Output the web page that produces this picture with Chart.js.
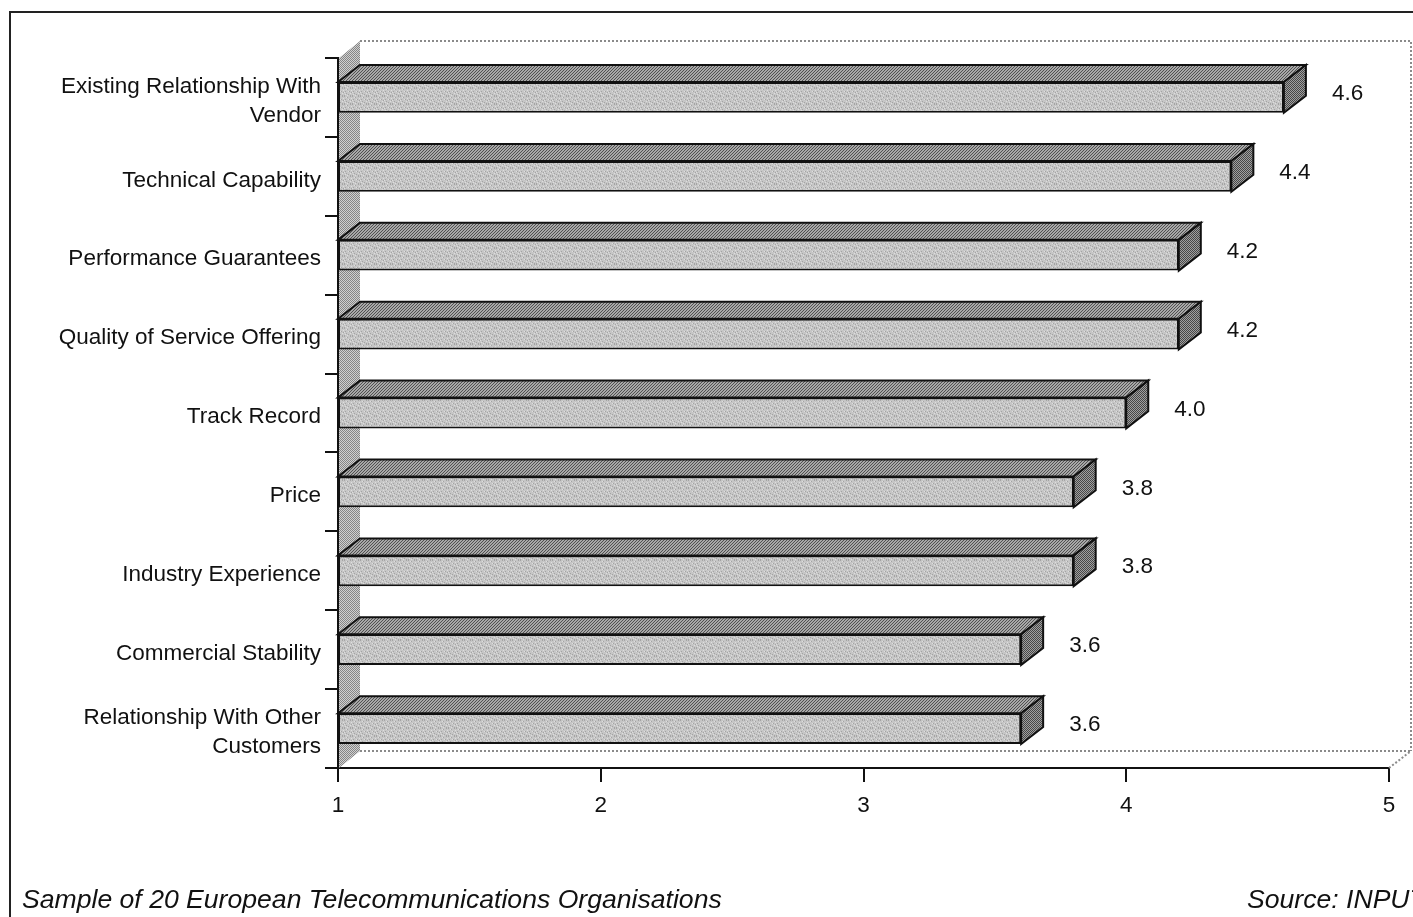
<!DOCTYPE html>
<html>
<head>
<meta charset="utf-8">
<script src="https://cdn.jsdelivr.net/npm/chart.js@4.4.1/dist/chart.umd.min.js"></script>
<style>
  html, body { margin: 0; padding: 0; background: #fff; }
  #wrap { position: relative; width: 1413px; height: 917px; overflow: hidden; background: #fff; }
  #frame { position: absolute; left: 9px; top: 11px; width: 1600px; height: 1100px;
           border-left: 2px solid #222; border-top: 2px solid #222; box-sizing: border-box; pointer-events: none; }
  canvas { position: absolute; left: 0; top: 0; }
  .foot { position: absolute; top: 886px; font-family: "Liberation Sans", Arial, sans-serif;
          font-style: italic; font-size: 26.6px; line-height: 26px; color: #111; white-space: nowrap; }
</style>
</head>
<body>
<div id="wrap">
  <canvas id="c" width="1413" height="917"></canvas>
  <div id="frame"></div>
  <div class="foot" style="left:22px">Sample of 20 European Telecommunications Organisations</div>
  <div class="foot" style="left:1247px">Source: INPUT</div>
</div>
<script>
// ---- data ----
const categories = [
  ['Existing Relationship With', 'Vendor'],
  'Technical Capability',
  'Performance Guarantees',
  'Quality of Service Offering',
  'Track Record',
  'Price',
  'Industry Experience',
  'Commercial Stability',
  ['Relationship With Other', 'Customers']
];
const values = [4.6, 4.4, 4.2, 4.2, 4.0, 3.8, 3.8, 3.6, 3.6];
const valueLabels = ['4.6', '4.4', '4.2', '4.2', '4.0', '3.8', '3.8', '3.6', '3.6'];
const xTickValues = [1, 2, 3, 4, 5];
const axisMin = 1;
const axisMax = 5;

// ---- textures (deterministic) ----
function makePattern(size, base, marks) {
  const cv = document.createElement('canvas');
  cv.width = size; cv.height = size;
  const g = cv.getContext('2d');
  g.fillStyle = base; g.fillRect(0, 0, size, size);
  marks.forEach(m => { g.fillStyle = m[2]; g.fillRect(m[0], m[1], 1, 1); });
  return g.createPattern(cv, 'repeat');
}
const frontMarks = [];
[[0,0],[3,1],[6,0],[1,3],[5,3],[2,5],[7,4],[4,6],[0,7],[6,7]].forEach(p => frontMarks.push([p[0], p[1], '#a4a4a4']));
[[2,1],[7,2],[0,4],[4,3],[6,5],[1,6],[3,7]].forEach(p => frontMarks.push([p[0], p[1], '#dedede']));
const frontPat = makePattern(8, '#c6c6c6', frontMarks);

const hatchMarks = [];
for (let i = 0; i < 6; i++) {
  hatchMarks.push([i, (6 - i) % 6, '#505050']);
  hatchMarks.push([i, (9 - i) % 6, '#505050']);
}
const topPat = makePattern(6, '#a8a8a8', hatchMarks);

const endMarks = [];
for (let y = 0; y < 4; y++) for (let x = 0; x < 4; x++) if ((x + y) % 2 === 0) endMarks.push([x, y, '#474747']);
const endPat = makePattern(4, '#a0a0a0', endMarks);

const wallMarks = [];
for (let y = 0; y < 4; y++) for (let x = 0; x < 4; x++) if ((x + y) % 2 === 0) wallMarks.push([x, y, '#858585']);
const wallPat = makePattern(4, '#d0d0d0', wallMarks);

const DX = 22, DY = 17;

function dottedLine(ctx, pts) {
  ctx.save();
  ctx.strokeStyle = '#8a8a8a';
  ctx.lineWidth = 2;
  ctx.setLineDash([2, 2]);
  ctx.beginPath();
  ctx.moveTo(pts[0][0], pts[0][1]);
  for (let i = 1; i < pts.length; i++) ctx.lineTo(pts[i][0], pts[i][1]);
  ctx.stroke();
  ctx.restore();
}

const box3d = {
  id: 'box3d',
  beforeDatasetsDraw(chart) {
    const ctx = chart.ctx;
    const a = chart.chartArea;
    ctx.save();
    ctx.fillStyle = wallPat;
    ctx.beginPath();
    ctx.moveTo(a.left + 1, a.top);
    ctx.lineTo(a.left + DX, a.top - DY);
    ctx.lineTo(a.left + DX, a.bottom - DY);
    ctx.lineTo(a.left + 1, a.bottom);
    ctx.closePath();
    ctx.fill();
    ctx.restore();
    dottedLine(ctx, [[a.left + DX, a.top - DY], [a.right + DX, a.top - DY], [a.right + DX, a.bottom - DY]]);
    dottedLine(ctx, [[a.left + DX, a.bottom - DY], [a.right + DX, a.bottom - DY]]);
    dottedLine(ctx, [[a.right, a.bottom], [a.right + DX, a.bottom - DY]]);
  },
  afterDatasetsDraw(chart) {
    const ctx = chart.ctx;
    const meta = chart.getDatasetMeta(0);
    ctx.save();
    ctx.lineWidth = 2;
    ctx.strokeStyle = '#111';
    ctx.lineJoin = 'miter';
    meta.data.forEach((el, i) => {
      const p = el.getProps(['x', 'y', 'base', 'height'], true);
      const x0 = Math.min(p.base, p.x), x1 = Math.max(p.base, p.x);
      const yT = p.y - p.height / 2, yB = p.y + p.height / 2;
      ctx.fillStyle = topPat;
      ctx.beginPath();
      ctx.moveTo(x0, yT);
      ctx.lineTo(x0 + DX, yT - DY);
      ctx.lineTo(x1 + DX, yT - DY);
      ctx.lineTo(x1, yT);
      ctx.closePath();
      ctx.fill(); ctx.stroke();
      ctx.fillStyle = endPat;
      ctx.beginPath();
      ctx.moveTo(x1, yT);
      ctx.lineTo(x1 + DX, yT - DY);
      ctx.lineTo(x1 + DX, yB - DY);
      ctx.lineTo(x1, yB);
      ctx.closePath();
      ctx.fill(); ctx.stroke();
      ctx.fillStyle = '#111';
      ctx.font = '22.5px "Liberation Sans", Arial, sans-serif';
      ctx.textAlign = 'left';
      ctx.textBaseline = 'middle';
      ctx.fillText(valueLabels[i], x1 + 48, p.y - 3.5);
    });
    ctx.restore();
  }
};

new Chart(document.getElementById('c'), {
  type: 'bar',
  data: {
    labels: categories,
    datasets: [{
      data: values.map(v => [axisMin, v]),
      backgroundColor: frontPat,
      borderColor: '#111',
      borderWidth: 2,
      borderSkipped: false,
      barPercentage: 0.39,
      categoryPercentage: 1.0
    }]
  },
  options: {
    indexAxis: 'y',
    responsive: false,
    devicePixelRatio: 1,
    animation: false,
    events: [],
    layout: { padding: { top: 58, right: 24, left: 0, bottom: 0 } },
    plugins: { legend: { display: false }, tooltip: { enabled: false } },
    scales: {
      x: {
        type: 'linear',
        min: axisMin, max: axisMax,
        afterFit(s) { s.height = 149; },
        afterBuildTicks(s) { s.ticks = xTickValues.map(v => ({ value: v })); },
        grid: { drawOnChartArea: false, drawTicks: true, tickLength: 14, color: '#111', lineWidth: 2 },
        border: { display: true, color: '#111', width: 2 },
        ticks: { color: '#111', padding: 10, font: { family: '"Liberation Sans", Arial, sans-serif', size: 22.5 } }
      },
      y: {
        afterFit(s) { s.width = 338; },
        grid: { drawOnChartArea: false, drawTicks: true, tickLength: 13, color: '#111', lineWidth: 2, offset: true },
        border: { display: true, color: '#111', width: 2 },
        ticks: {
          color: '#111', padding: 4, autoSkip: false, labelOffset: 4,
          font: { family: '"Liberation Sans", Arial, sans-serif', size: 22.5, lineHeight: 1.28 }
        }
      }
    }
  },
  plugins: [box3d]
});
</script>
</body>
</html>
